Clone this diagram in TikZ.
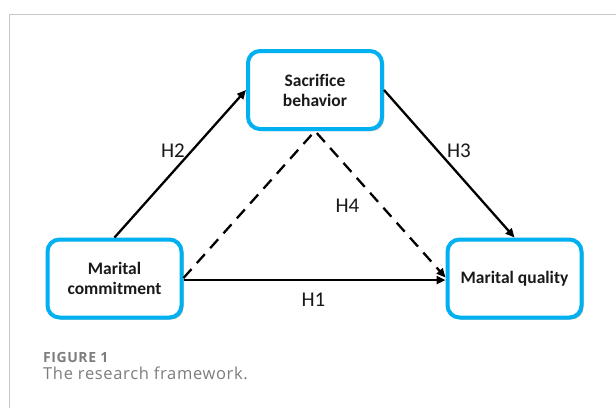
\documentclass[tikz,border=0pt]{standalone}
\usepackage{fontspec}
\setmainfont[Ligatures=NoCommon]{Carlito}
\newfontfamily\capfont[LetterSpace=4]{Open Sans}
\usetikzlibrary{arrows.meta,shadows}
\definecolor{boxcyan}{RGB}{0,176,240}
\definecolor{framegray}{RGB}{200,200,200}
\definecolor{capgray}{RGB}{125,125,125}
\begin{document}
\begin{tikzpicture}[x=1pt,y=-1pt,
  varbox/.style={draw=boxcyan,line width=4pt,rounded corners=12pt,fill=white,
    minimum width=134pt,minimum height=78pt,align=center,inner sep=0pt,
    font=\fontsize{17.5}{20}\selectfont\bfseries,text=black!90,
    drop shadow={shadow xshift=2pt,shadow yshift=-2pt,fill=black,opacity=0.3}},
  link/.style={line width=2.3pt,-{Triangle[length=9pt,width=8pt]}},
  dlink/.style={link,dash pattern=on 12pt off 8pt},
  hlab/.style={font=\fontsize{21}{23}\selectfont,text=black!90,inner sep=0pt}]
\useasboundingbox (0,0) rectangle (616,408);
\fill[white] (0,0) rectangle (616,408);
\draw[framegray,line width=1pt] (9,408) -- (9,14) -- (616,14);
\node[varbox] (sac) at (315,90) {Sacrifice\\behavior};
\node[varbox] (com) at (114.5,278.5) {Marital\\commitment};
\node[varbox] (qual) at (514.5,278.5) {Marital quality};
\draw[link] (com.north) -- (sac.west);
\draw[link] (sac.east) -- (qual.north);
\draw[link] ([yshift=-1.5pt]com.east) -- ([yshift=-1.5pt]qual.west);
\draw[dlink] ([yshift=0.5pt]com.east) -- (sac.south) -- ([yshift=1pt]qual.west);
\node[hlab] (h2) at (173,150.5) {H2};
\node[hlab] (h3) at (459,150.5) {H3};
\node[hlab] (h4) at (347.5,206) {H4};
\node[hlab] (h1) at (313.5,300) {H1};
\node[anchor=base west,inner sep=0pt,text=capgray,font=\capfont\fontsize{14}{15}\selectfont\bfseries] (fig) at (43,362) {FIGURE 1};
\node[anchor=base west,inner sep=0pt,text=capgray,font=\capfont\fontsize{16.5}{18}\selectfont] (cap) at (43,379) {The research framework.};
\end{tikzpicture}
\end{document}
